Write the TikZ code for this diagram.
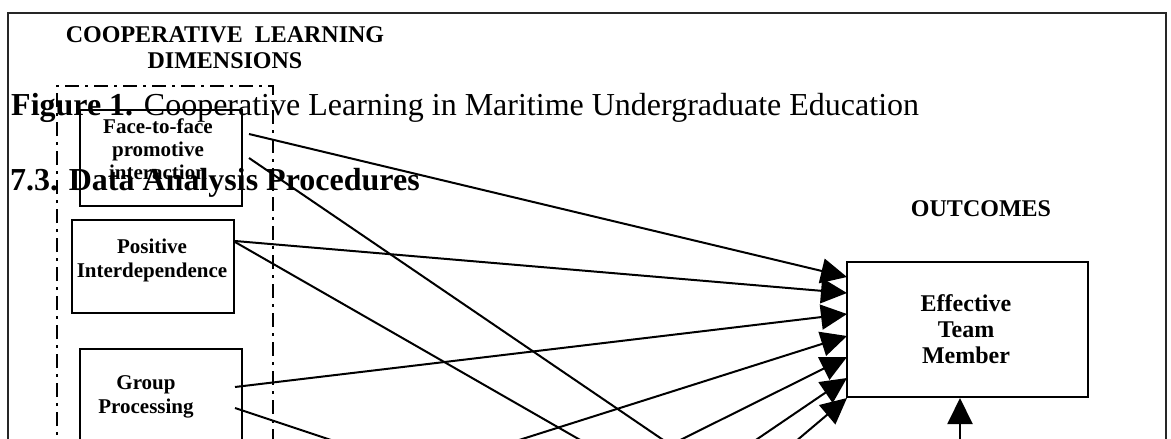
\documentclass[tikz,border=0pt]{standalone}
\usepackage{fontspec}
\setmainfont{Liberation Serif}
\usetikzlibrary{arrows.meta}
\begin{document}
\begin{tikzpicture}[x=1pt,y=-1pt,
  box/.style={draw, line width=2pt, inner sep=0pt},
  lbl/.style={font=\bfseries\fontsize{21}{24}\selectfont, align=center, inner sep=0pt},
  head/.style={font=\bfseries\fontsize{24}{26}\selectfont, align=center, inner sep=0pt},
  link/.style={line width=2pt},
  arr/.style={line width=2pt, -{Triangle[length=26pt,width=25pt]}},
  doc/.style={font=\fontsize{32}{36}\selectfont, inner sep=0pt, anchor=base west}]
\useasboundingbox (0,0) rectangle (1171,439);
\clip (0,0) rectangle (1171,439);
% frames
\draw[line width=1.8pt, black!85] (8,600) -- (8,13) -- (1166,13) -- (1166,600);
\draw[line width=1.8pt, dash pattern=on 14pt off 6pt on 3pt off 6pt] (57,600) -- (57,86) -- (273,86) -- (273,600);
% headings
\node[head, anchor=base] (hdim) at (225,68) {COOPERATIVE\ \ LEARNING\\DIMENSIONS};
\node[head, anchor=base] (hout) at (981,216) {OUTCOMES};
% boxes
\node[box, minimum width=162pt, minimum height=96pt] (ff) at (161,158) {};
\node[box, minimum width=162pt, minimum height=93pt] (pi) at (153,266.5) {};
\node[box, minimum width=162pt, minimum height=140pt] (gp) at (161,419) {};
\node[box, minimum width=241pt, minimum height=135pt] (etm) at (967.5,329.5) {};
\node[lbl, font=\bfseries\fontsize{21}{23}\selectfont, anchor=base] (fft) at (158,179) {Face-to-face\\promotive\\interaction};
\node[lbl, anchor=base] (pit) at (152,277) {Positive\\Interdependence};
\node[lbl, anchor=base] (gpt) at (146,413) {Group\\Processing};
\node[head, anchor=base] (etmt) at (966,363) {Effective\\Team\\Member};
% document text overlapping
\node[doc] (fig) at (11,115) {\textbf{Figure 1.} Cooperative Learning in Maritime Undergraduate Education};
\node[doc, font=\bfseries\fontsize{32}{36}\selectfont] (sec) at (10,190) {7.3. Data Analysis Procedures};
% connector points
\coordinate (ffa) at (249,134);
\coordinate (ffb) at (249,158);
\coordinate (pia) at (235,241);
\coordinate (pib) at (235,242);
\coordinate (gpa) at (235,387);
\coordinate (gpb) at (235,408);
\coordinate (t1) at (847,277);
\coordinate (t2) at (847,293);
\coordinate (t3) at (847,314);
\coordinate (t4) at (847,336);
\coordinate (t5) at (847,357);
\coordinate (t6) at (847,378);
\coordinate (t7) at (847,398);
\coordinate (s4) at (393,480);
\coordinate (s5) at (600,480);
\coordinate (s6) at (697,480);
\coordinate (s7) at (750,480);
\coordinate (e1) at (722,480);
\coordinate (e2) at (650,480);
\coordinate (e3) at (451,480);
\coordinate (sb) at (960,480);
% connectors
\draw[arr] (ffa) -- (t1);
\draw[arr] (pia) -- (t2);
\draw[arr] (gpa) -- (t3);
\draw[arr] (s4) -- (t4);
\draw[arr] (s5) -- (t5);
\draw[arr] (s6) -- (t6);
\draw[arr] (s7) -- (t7);
\draw[arr] (sb) -- (etm.south -| sb);
\draw[link] (ffb) -- (e1);
\draw[link] (pib) -- (e2);
\draw[link] (gpb) -- (e3);
\end{tikzpicture}
\end{document}
